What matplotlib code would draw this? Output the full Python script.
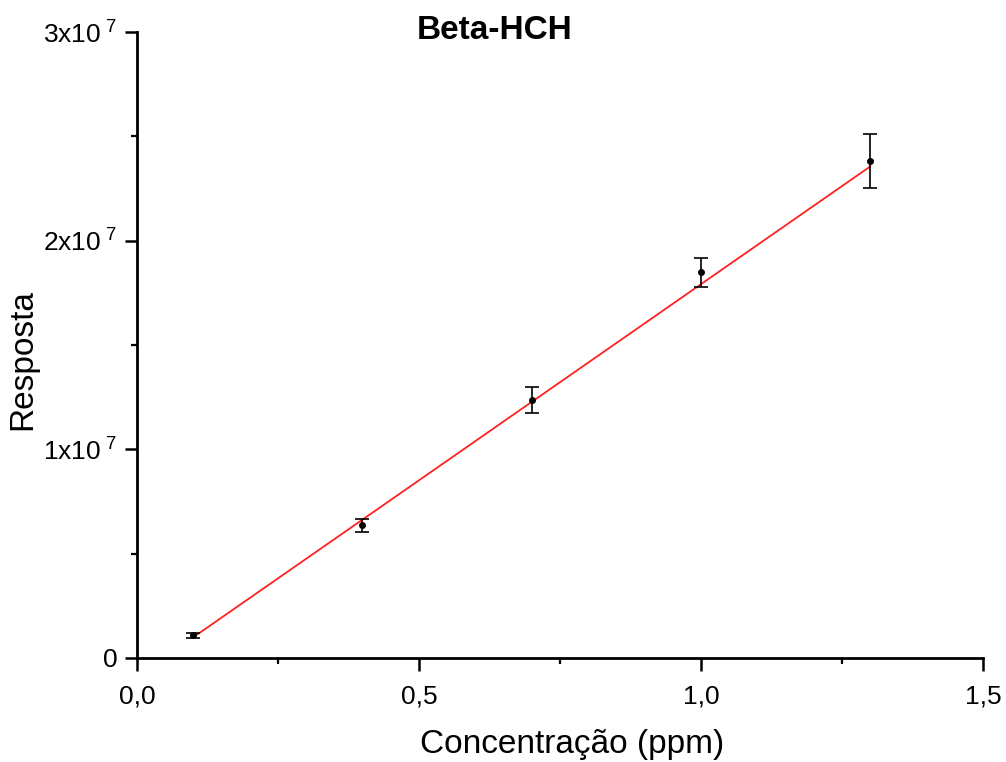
import matplotlib.pyplot as plt
import numpy as np
from matplotlib.ticker import MultipleLocator, FuncFormatter

plt.rcParams['font.family'] = ['Liberation Sans', 'DejaVu Sans']
plt.rcParams['mathtext.fontset'] = 'custom'
plt.rcParams['mathtext.rm'] = 'Liberation Sans'
plt.rcParams['mathtext.it'] = 'Liberation Sans'

# data
conc = [0.1, 0.4, 0.7, 1.0, 1.3]
resp = [1.1e6, 6.35e6, 1.237e7, 1.848e7, 2.38e7]
err = [0.12e6, 0.3e6, 0.62e6, 0.7e6, 1.29e6]

# linear fit parameters (as drawn in the original)
slope = 1.88e7
inter = -0.89e6

title = 'Beta-HCH'
xlabel = 'Concentração (ppm)'
ylabel = 'Resposta'

xfit = np.array([conc[0], conc[-1]])
yfit = slope * xfit + inter

fig = plt.figure(figsize=(10.06, 7.62), dpi=100)
ax = fig.add_axes([0.136, 0.1365, 0.841, 0.8215])

ax.plot(xfit, yfit, color='#ff2020', lw=1.3, zorder=2)
ax.errorbar(conc, resp, yerr=err, fmt='o', color='black', ms=4,
            ecolor='black', elinewidth=1.2, capsize=5, capthick=1.2, zorder=3)

ax.set_xlim(0, 1.5)
ax.set_ylim(0, 3e7)

ax.spines['top'].set_visible(False)
ax.spines['right'].set_visible(False)
ax.spines['left'].set_linewidth(2)
ax.spines['bottom'].set_linewidth(2)

ax.xaxis.set_major_locator(MultipleLocator(0.5))
ax.xaxis.set_minor_locator(MultipleLocator(0.25))
ax.yaxis.set_major_locator(MultipleLocator(1e7))
ax.yaxis.set_minor_locator(MultipleLocator(0.5e7))

ax.xaxis.set_major_formatter(FuncFormatter(lambda v, p: ('%.1f' % v).replace('.', ',')))


def yfmt(v, p):
    if v == 0:
        return '0'
    return '%dx10$^{\\ 7}$' % round(v / 1e7)


ax.yaxis.set_major_formatter(FuncFormatter(yfmt))

ax.tick_params(which='major', direction='out', length=9, width=1.8, labelsize=19, pad=5)
ax.tick_params(axis='x', which='major', pad=10)
ax.tick_params(which='minor', direction='out', length=4.5, width=1.6)

ax.set_xlabel(xlabel, fontsize=24)
ax.xaxis.set_label_coords(0.514, -0.114)
ax.set_ylabel(ylabel, fontsize=24)
ax.yaxis.set_label_coords(-0.116, 0.476)
ax.set_title(title, fontsize=24, fontweight='bold', x=0.423, y=1.003, va='center', pad=0)

fig.savefig('out.png', dpi=100)
